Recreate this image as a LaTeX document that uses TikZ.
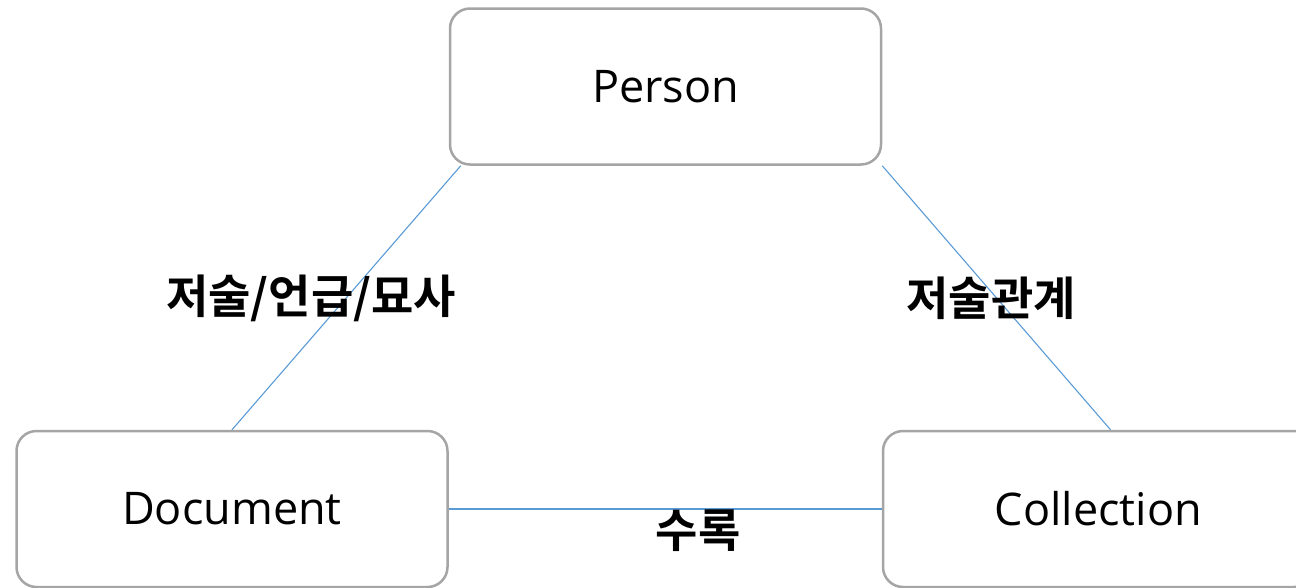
\documentclass[tikz,border=0pt]{standalone}
\usepackage{fontspec}
\setmainfont{Open Sans}
\newfontfamily\kofont{Noto Sans CJK KR}[BoldFont={* Bold}]
\usetikzlibrary{positioning, calc}
\definecolor{linkblue}{RGB}{91,155,213}
\definecolor{boxgray}{RGB}{165,165,165}

\begin{document}
\begin{tikzpicture}[
    x=1pt, y=-1pt,
    entity/.style={draw=boxgray, line width=2.5pt, rounded corners=20pt, fill=white,
        minimum width=431pt, minimum height=156pt, inner sep=0pt,
        font=\fontsize{45}{50}\selectfont},
    link/.style={draw=linkblue, line width=1.1pt},
    rel/.style={font=\kofont\bfseries\fontsize{46}{50}\selectfont, inner sep=0pt}
]
    \useasboundingbox (0,0) rectangle (1296,587);

    % Entities
    \node[entity] (person) at (665.5, 86.5) {Person};
    \node[entity] (doc) at (232, 509) {Document};
    \node[entity] (coll) at (1098.5, 509) {Collection};

    % Relations
    \draw[link] ([xshift=12pt]person.south west) -- (doc.north);
    \draw[link] (person.south east) -- ([xshift=12pt]coll.north);
    \draw[link] (doc.east) -- (coll.west);

    % Relation labels
    \node[rel] (l_doc) at (311, 298) {저술/언급/묘사};
    \node[rel] (l_coll) at (991, 298) {저술관계};
    \node[rel] (l_rec) at (698, 531) {수록};
\end{tikzpicture}
\end{document}
